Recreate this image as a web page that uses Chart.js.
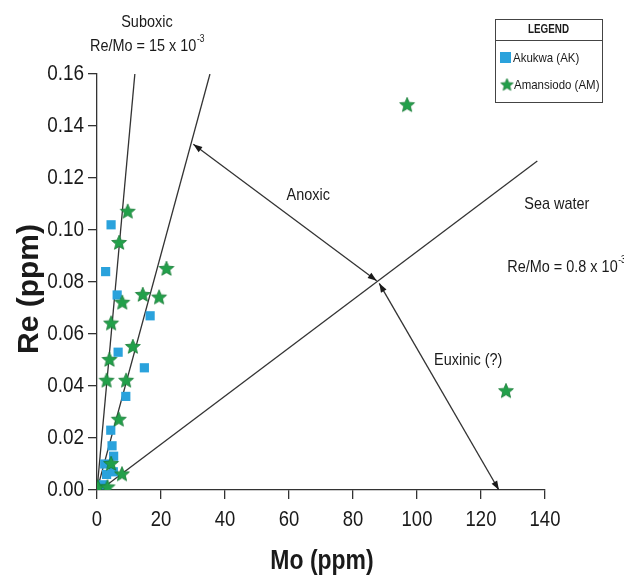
<!DOCTYPE html>
<html>
<head>
<meta charset="utf-8">
<script src="https://cdn.jsdelivr.net/npm/chart.js@4.4.1/dist/chart.umd.min.js"></script>
<style>
  html, body { margin: 0; background: #fff; }
  canvas { display: block; }
</style>
</head>
<body>
<canvas id="chart" width="624" height="578"></canvas>
<script>
// Akukwa (AK) samples
const akMo = [4.4, 2.7, 6.3, 16.6, 6.6, 14.8, 9.0, 4.3, 4.7, 5.2, 2.4, 3.0, 5.1, 1.9];
const akRe = [0.102, 0.084, 0.075, 0.067, 0.053, 0.047, 0.036, 0.023, 0.017, 0.013, 0.010, 0.006, 0.007, 0.002];

// Amansiodo (AM) samples
const amMo = [9.6, 6.9, 21.7, 14.3, 19.4, 7.9, 4.4, 11.2, 3.9, 3.0, 9.1, 6.8, 4.4, 7.8, 0.3, 3.3, 96.9, 127.8];
const amRe = [0.107, 0.095, 0.085, 0.075, 0.074, 0.072, 0.064, 0.055, 0.050, 0.042, 0.042, 0.027, 0.010, 0.006, 0.001, 0.001, 0.148, 0.038];

// reference lines (Re/Mo ratios)
const suboxicMo = [0, 11.9];
const suboxicRe = [0, 0.161];
const anoxicMo = [0, 35.3];
const anoxicRe = [0, 0.16];
const seaMo = [1, 137.6];
const seaRe = [0, 0.1265];

// double headed arrows
const anoxicArrowMo = [30.1, 87.4];
const anoxicArrowRe = [0.133, 0.0805];
const euxinicArrowMo = [88.2, 125.6];
const euxinicArrowRe = [0.0795, 0];

const xTicks = [0, 20, 40, 60, 80, 100, 120, 140];
const yTicks = [0, 0.02, 0.04, 0.06, 0.08, 0.10, 0.12, 0.14, 0.16];

// text labels: [text, superscript, Mo, Re, align]
const notes = [
  ["Suboxic", "", 15.6, 0.180, "center"],
  ["Re/Mo = 15 x 10", "-3", -2.2, 0.1705, "left"],
  ["Anoxic", "", 66, 0.1135, "center"],
  ["Sea water", "", 143.7, 0.110, "center"],
  ["Re/Mo = 0.8 x 10", "-3", 128.2, 0.0855, "left"],
  ["Euxinic (?)", "", 116, 0.050, "center"]
];

const SANS = "'Liberation Sans', Arial, sans-serif";
const BLUE = "#2aa2dc";
const GREEN = "#22a04a";
const LINE = "#333";
const TXT = "#1a1a1a";

const pts = (xs, ys) => xs.map((x, i) => ({ x, y: ys[i] }));

// narrow-looking text: horizontally squeezed sans
function squeezed(ctx, text, x, y, font, align, sx, rot) {
  ctx.save();
  ctx.font = font;
  ctx.textAlign = align;
  ctx.textBaseline = "middle";
  ctx.translate(x, y);
  if (rot) ctx.rotate(rot);
  ctx.scale(sx, 1);
  ctx.fillText(text, 0, 0);
  const w = ctx.measureText(text).width * sx;
  ctx.restore();
  return w;
}

function makeStar(r) {
  const c = document.createElement("canvas");
  const s = Math.ceil(r * 2 + 2);
  c.width = s; c.height = s;
  const g = c.getContext("2d");
  g.beginPath();
  for (let i = 0; i < 10; i++) {
    const rad = i % 2 === 0 ? r : r * 0.45;
    const a = -Math.PI / 2 + i * Math.PI / 5;
    const px = s / 2 + rad * Math.cos(a), py = s / 2 + rad * Math.sin(a);
    if (i === 0) g.moveTo(px, py); else g.lineTo(px, py);
  }
  g.closePath();
  g.fillStyle = GREEN;
  g.fill();
  g.strokeStyle = "#167a35";
  g.lineWidth = 0.8;
  g.stroke();
  return c;
}
const starImg = makeStar(7.8);
const starSmall = makeStar(6.5);

function lineSet(xs, ys, tag) {
  return {
    label: tag, data: pts(xs, ys), showLine: true, borderColor: LINE,
    borderWidth: 1.3, pointRadius: 0, fill: false, order: 5
  };
}

function head(ctx, x1, y1, x2, y2) {
  const a = Math.atan2(y2 - y1, x2 - x1), len = 9, w = 3.2;
  ctx.beginPath();
  ctx.moveTo(x2, y2);
  ctx.lineTo(x2 - len * Math.cos(a) + w * Math.sin(a), y2 - len * Math.sin(a) - w * Math.cos(a));
  ctx.lineTo(x2 - len * Math.cos(a) - w * Math.sin(a), y2 - len * Math.sin(a) + w * Math.cos(a));
  ctx.closePath();
  ctx.fill();
}

const extras = {
  id: "extras",
  afterDraw(chart) {
    const ctx = chart.ctx;
    const xs = chart.scales.x, ys = chart.scales.y;
    ctx.save();
    ctx.fillStyle = TXT;

    // tick labels and axis titles
    xTicks.forEach(v => squeezed(ctx, String(v), xs.getPixelForValue(v), 520, "22px " + SANS, "center", 0.84));
    yTicks.forEach(v => squeezed(ctx, v.toFixed(2), 84, ys.getPixelForValue(v), "22px " + SANS, "right", 0.86));
    squeezed(ctx, "Mo (ppm)", (xs.left + xs.right) / 2 + 1, 561, "bold 28px " + SANS, "center", 0.82);
    squeezed(ctx, "Re (ppm)", 30, 289, "bold 30px " + SANS, "center", 1, -Math.PI / 2);

    // arrow heads on both ends
    chart.data.datasets.forEach((ds, i) => {
      if (!ds.label.startsWith("arrow")) return;
      const p = chart.getDatasetMeta(i).data;
      head(ctx, p[1].x, p[1].y, p[0].x, p[0].y);
      head(ctx, p[0].x, p[0].y, p[1].x, p[1].y);
    });

    // notes
    notes.forEach(([t, sup, mo, re, al]) => {
      const px = xs.getPixelForValue(mo), py = ys.getPixelForValue(re);
      const w = squeezed(ctx, t, px, py, "17px " + SANS, al, 0.85);
      if (sup) squeezed(ctx, sup, px + w + 0.5, py - 7, "10px " + SANS, "left", 0.85);
    });

    // legend box
    const L = 495, T = 19, R = 602, B = 102;
    ctx.fillStyle = "#fff";
    ctx.fillRect(L, T, R - L, B - T);
    ctx.strokeStyle = "#444";
    ctx.lineWidth = 1;
    ctx.strokeRect(L + 0.5, T + 0.5, R - L, B - T);
    ctx.beginPath();
    ctx.moveTo(L, 40.5); ctx.lineTo(R, 40.5);
    ctx.stroke();
    ctx.fillStyle = TXT;
    squeezed(ctx, "LEGEND", (L + R) / 2, 30, "bold 12px " + SANS, "center", 0.82);
    ctx.fillStyle = BLUE;
    ctx.fillRect(500, 52, 11, 11);
    ctx.fillStyle = TXT;
    squeezed(ctx, chart.data.datasets[0].label, 513, 58, "13.5px " + SANS, "left", 0.85);
    ctx.drawImage(starSmall, 507 - starSmall.width / 2, 85 - starSmall.height / 2);
    squeezed(ctx, chart.data.datasets[1].label, 514, 85, "13.5px " + SANS, "left", 0.85);
    ctx.restore();
  }
};

new Chart(document.getElementById("chart"), {
  type: "scatter",
  data: {
    datasets: [
      {
        label: "Akukwa (AK)", data: pts(akMo, akRe), pointStyle: "rect",
        pointRadius: 6.5, backgroundColor: BLUE, borderColor: BLUE, borderWidth: 0, order: 2
      },
      {
        label: "Amansiodo (AM)", data: pts(amMo, amRe), pointStyle: starImg,
        pointRadius: 7, backgroundColor: GREEN, order: 1
      },
      lineSet(suboxicMo, suboxicRe, "suboxic"),
      lineSet(anoxicMo, anoxicRe, "anoxic"),
      lineSet(seaMo, seaRe, "sea water"),
      lineSet(anoxicArrowMo, anoxicArrowRe, "arrow anoxic"),
      lineSet(euxinicArrowMo, euxinicArrowRe, "arrow euxinic")
    ]
  },
  options: {
    responsive: false,
    animation: false,
    events: [],
    layout: { padding: { left: 0, top: 74, right: 79, bottom: 0 } },
    plugins: { legend: { display: false }, tooltip: { enabled: false } },
    scales: {
      x: {
        type: "linear", min: 0, max: 140,
        afterFit: s => { s.height = 88; },
        afterBuildTicks: s => { s.ticks = xTicks.map(v => ({ value: v })); },
        grid: { drawOnChartArea: false, drawTicks: true, tickLength: 9, color: LINE, lineWidth: 1.3 },
        border: { display: true, color: LINE, width: 1.3 },
        ticks: { display: false }
      },
      y: {
        type: "linear", min: 0, max: 0.16,
        afterFit: s => { s.width = 97; },
        afterBuildTicks: s => { s.ticks = yTicks.map(v => ({ value: v })); },
        grid: { drawOnChartArea: false, drawTicks: true, tickLength: 9, color: LINE, lineWidth: 1.3 },
        border: { display: true, color: LINE, width: 1.3 },
        ticks: { display: false }
      }
    }
  },
  plugins: [extras]
});
</script>
</body>
</html>
